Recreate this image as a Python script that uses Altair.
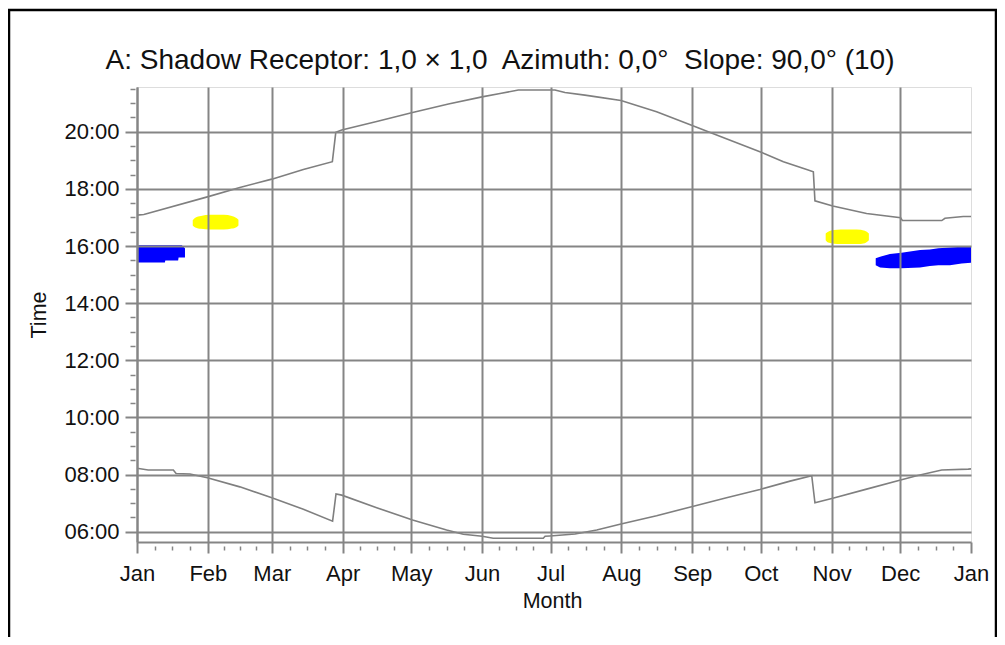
import altair as alt
import pandas as pd

# ---------------- data ----------------
month_names = ["Jan", "Feb", "Mar", "Apr", "May", "Jun", "Jul", "Aug", "Sep", "Oct", "Nov", "Dec", "Jan"]
month_starts = [0, 31, 59, 90, 120, 151, 181, 212, 243, 273, 304, 334, 365]
hour_ticks = [6, 8, 10, 12, 14, 16, 18, 20]

# sunset curve (day of year, hours)
sunset_day = [0, 3, 30.8, 45, 59, 72.8, 85.5, 87, 89.6, 104.9, 120.6, 136.3, 151, 158.9, 166.9,
              182.9, 187.3, 196, 201.2, 211.8, 227.4, 242.7, 250, 272.6, 282.9, 293.1, 296,
              296.7, 304.5, 319.3, 334.2, 335, 352.2, 353.6, 361.6, 365]
sunset_h = [17.08, 17.1, 17.72, 18.05, 18.34, 18.68, 18.95, 19.98, 20.06, 20.36, 20.67, 20.97, 21.22, 21.34, 21.46,
            21.46, 21.37, 21.28, 21.22, 21.09, 20.70, 20.23, 20.0, 19.30, 18.95, 18.68, 18.6,
            17.58, 17.40, 17.14, 16.99, 16.89, 16.89, 16.97, 17.03, 17.03]

# sunrise curve
sunrise_day = [0, 4.9, 15.9, 17.1, 23.2, 30.8, 45, 59, 72.8, 85.6, 87.1, 89.6, 104.9, 120.6, 135.5,
               142.8, 151.1, 155.9, 177.8, 178.6, 180.7, 191.7, 201.2, 211.8, 227.4, 242.7, 258,
               272.6, 285.8, 295.3, 296.7, 304.5, 319.3, 334.2, 341.2, 352.2, 363.8, 365]
sunrise_h = [8.22, 8.16, 8.16, 8.04, 8.02, 7.89, 7.57, 7.19, 6.79, 6.37, 7.32, 7.28, 6.84, 6.41, 6.06,
             5.91, 5.84, 5.77, 5.77, 5.84, 5.85, 5.92, 6.06, 6.27, 6.56, 6.875, 7.19,
             7.48, 7.77, 7.96, 7.01, 7.17, 7.49, 7.81, 7.96, 8.16, 8.19, 8.2]

# shadow periods (blue)
blue1_day = [0, 12.2, 12.4, 18, 18.2, 19.6, 21]
blue1_lo = [15.42, 15.42, 15.49, 15.49, 15.6, 15.6, 15.6]
blue1_hi = [16.03, 16.03, 16.03, 16.03, 16.03, 16.03, 15.92]

blue2_day = [323.3, 325.2, 329.5, 334.6, 342.7, 347, 350.7, 355.8, 360.9, 365]
blue2_lo = [15.33, 15.25, 15.22, 15.22, 15.25, 15.3, 15.33, 15.33, 15.39, 15.41]
blue2_hi = [15.57, 15.62, 15.72, 15.76, 15.86, 15.88, 15.92, 15.95, 15.97, 15.97]

# yellow periods
yellow1_day = [24.4, 25.5, 28, 32, 38, 41.5, 43.5, 44.4]
yellow1_lo = [16.72, 16.65, 16.6, 16.58, 16.58, 16.61, 16.66, 16.72]
yellow1_hi = [16.9, 16.99, 17.05, 17.09, 17.09, 17.05, 16.98, 16.92]

yellow2_day = [301.4, 302.5, 305, 308, 315, 318.5, 320.3]
yellow2_lo = [16.2, 16.12, 16.08, 16.07, 16.07, 16.1, 16.2]
yellow2_hi = [16.44, 16.5, 16.56, 16.58, 16.58, 16.53, 16.44]

title_text = "A: Shadow Receptor: 1,0 \u00d7 1,0\u00a0 Azimuth: 0,0\u00b0\u00a0 Slope: 90,0\u00b0 (10)"

# ---------------- tables ----------------
curves = pd.concat([
    pd.DataFrame({"day": sunset_day, "h": sunset_h, "series": "sunset"}),
    pd.DataFrame({"day": sunrise_day, "h": sunrise_h, "series": "sunrise"}),
])
blue = pd.concat([
    pd.DataFrame({"day": blue1_day, "lo": blue1_lo, "hi": blue1_hi, "blob": "b1"}),
    pd.DataFrame({"day": blue2_day, "lo": blue2_lo, "hi": blue2_hi, "blob": "b2"}),
])
yellow = pd.concat([
    pd.DataFrame({"day": yellow1_day, "lo": yellow1_lo, "hi": yellow1_hi, "blob": "y1"}),
    pd.DataFrame({"day": yellow2_day, "lo": yellow2_lo, "hi": yellow2_hi, "blob": "y2"}),
])

minor_x = []
for i in range(12):
    s = month_starts[i]
    L = month_starts[i + 1] - s
    minor_x += [s + L / 4, s + L / 2, s + 3 * L / 4]
minor_y = [v / 2 for v in range(13, 44) if v % 4 != 0]

XDOM = [0, 365]
YDOM = [5.64, 21.565]
GRAY = "#858585"
FONT = "Liberation Sans"
W, H = 834, 455

xs = alt.Scale(domain=XDOM, nice=False, zero=False)
ys = alt.Scale(domain=YDOM, nice=False, zero=False)

names_js = "[" + ",".join("'%s'" % m for m in month_names) + "]"
starts_js = "[" + ",".join(str(v) for v in month_starts) + "]"

x_major = alt.Axis(
    values=month_starts, labelExpr=f"{names_js}[indexof({starts_js}, datum.value)]",
    tickSize=11, tickWidth=2, tickColor=GRAY, domainColor=GRAY, domainWidth=2,
    grid=True, gridWidth=2,
    gridColor=alt.condition("datum.value == 365", alt.value("transparent"), alt.value(GRAY)),
    labelFont=FONT, labelFontSize=22, labelColor="#111111", labelBaseline="alphabetic",
    labelPadding=27, labelFlush=False, labelOverlap=False,
    titleFont=FONT, titleFontSize=21.5, titleFontWeight="normal", titleColor="#111111",
    titleX=415, titleY=65, titleBaseline="alphabetic", titleAlign="center",
    zindex=1,
)
y_major = alt.Axis(
    values=hour_ticks, labelExpr="(datum.value < 10 ? '0' : '') + datum.value + ':00'",
    tickSize=12, tickWidth=2, tickColor=GRAY, domainColor=GRAY, domainWidth=2,
    grid=True, gridWidth=2, gridColor=GRAY,
    labelFont=FONT, labelFontSize=22, labelColor="#111111", labelPadding=6,
    labelOverlap=False, labelFlush=False,
    titleFont=FONT, titleFontSize=21.5, titleFontWeight="normal", titleColor="#111111",
    titleX=-92, titleY=227.5, titleAngle=270, titleBaseline="alphabetic", titleAlign="center",
    zindex=1,
)
x_minor = alt.Axis(values=minor_x, labels=False, domain=False, grid=False, ticks=True,
                   tickSize=4, tickWidth=1.5, tickColor=GRAY, offset=4, orient="bottom")
y_minor = alt.Axis(values=minor_y, labels=False, domain=False, grid=False, ticks=True,
                   tickSize=5, tickWidth=1.5, tickColor=GRAY, offset=2, orient="left")

blue_layer = alt.Chart(blue).mark_area(color="#0000ff", interpolate="linear", opacity=1).encode(
    x=alt.X("day:Q", scale=xs, axis=None),
    y=alt.Y("lo:Q", scale=ys, axis=None),
    y2="hi:Q",
    detail="blob:N",
)
yellow_layer = alt.Chart(yellow).mark_area(color="#ffff00", interpolate="monotone", opacity=1).encode(
    x=alt.X("day:Q", scale=xs, axis=None),
    y=alt.Y("lo:Q", scale=ys, axis=None),
    y2="hi:Q",
    detail="blob:N",
)
line_layer = alt.Chart(curves).mark_line(color="#7f7f7f", strokeWidth=1.6).encode(
    x=alt.X("day:Q", scale=xs, axis=x_major, title="Month"),
    y=alt.Y("h:Q", scale=ys, axis=y_major, title="Time"),
    detail="series:N",
)
minor_layer = alt.Chart(curves).mark_point(opacity=0).encode(
    x=alt.X("day:Q", scale=xs, axis=x_minor, title=""),
    y=alt.Y("h:Q", scale=ys, axis=y_minor, title=""),
)
frame = alt.Chart(alt.Data(values=[{"a": 1}])).mark_rect(
    fill="transparent", stroke="#000000", strokeWidth=2.5
).encode(
    x=alt.value(-128), x2=alt.value(859), y=alt.value(-77), y2=alt.value(570)
)
title_mark = alt.Chart(alt.Data(values=[{"t": title_text}])).mark_text(
    font=FONT, fontSize=28, color="#111111", align="center", baseline="alphabetic"
).encode(
    text="t:N", x=alt.value(363), y=alt.value(-18)
)

chart = alt.layer(blue_layer, yellow_layer, line_layer, minor_layer, frame, title_mark).resolve_scale(
    x="independent", y="independent"
).properties(
    width=W, height=H,
    autosize=alt.AutoSizeParams(type="none"),
    padding={"left": 129, "top": 79, "right": 26, "bottom": 95},
).configure_view(stroke=None).configure(background="white")

chart.save("out.html", embed_options={"renderer": "svg", "actions": False})
